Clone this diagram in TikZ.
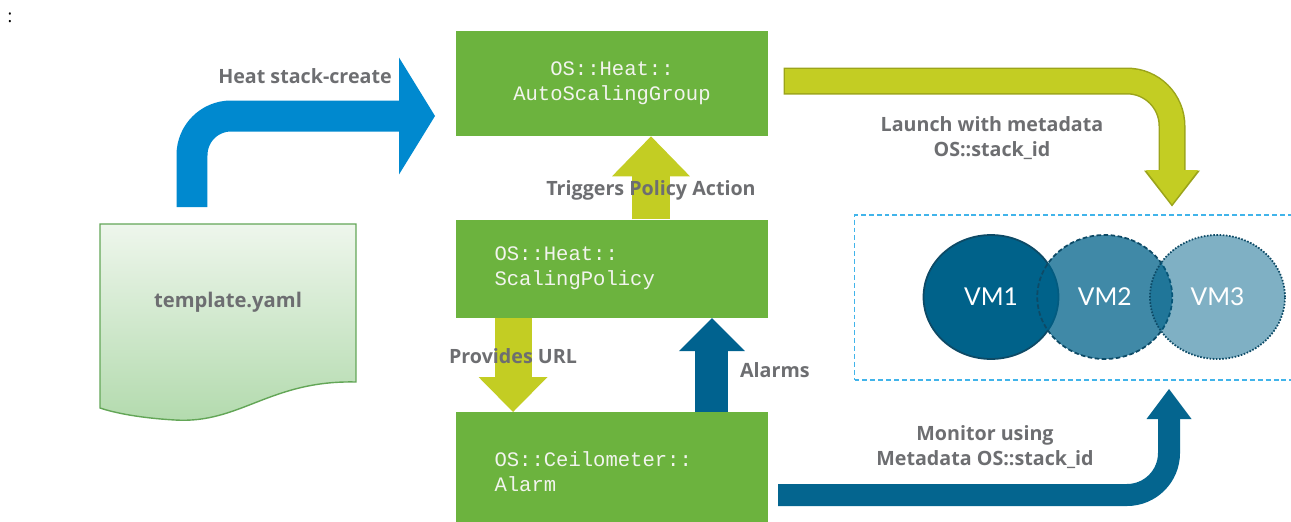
\documentclass[tikz,border=0pt]{standalone}
\usepackage{fontspec}
\setmainfont{Open Sans}
\setmonofont{Liberation Mono}
\newfontfamily\vmfont{Lato}
\usetikzlibrary{arrows.meta, positioning, shapes.geometric, calc}
\definecolor{heatGreen}{HTML}{6CB33E}
\definecolor{monoWhite}{HTML}{F2F4EE}
\definecolor{lblGray}{HTML}{6D6E71}
\definecolor{heatBlue}{HTML}{0089CF}
\definecolor{limeArrow}{HTML}{C3CD23}
\definecolor{limeEdge}{HTML}{9BA41A}
\definecolor{alarmBlue}{HTML}{00628F}
\definecolor{monBlue}{HTML}{04658F}
\definecolor{vmBlue}{HTML}{00628A}
\definecolor{vmEdge}{HTML}{0D4A66}
\definecolor{dashBlue}{HTML}{41B4EA}
\definecolor{docEdge}{HTML}{63A657}
\definecolor{docTop}{HTML}{EEF6EC}
\definecolor{docBot}{HTML}{B2DAAD}

\begin{document}
\begin{tikzpicture}[x=0.02cm, y=-0.02cm,
    resbox/.style={rectangle, fill=heatGreen, minimum width=6.24cm, inner sep=0pt,
                   text=monoWhite, font=\fontsize{11.7}{14.2}\selectfont\ttfamily},
    lbl/.style={text=lblGray, font=\fontsize{11.2}{14.2}\selectfont\bfseries,
                align=center, inner sep=1pt},
    vm/.style={ellipse, minimum width=2.7cm, minimum height=2.48cm, inner sep=0pt,
               fill=vmBlue, draw=vmEdge, line width=1pt, text=white,
               font=\fontsize{14}{16}\selectfont\vmfont},
    vmbox/.style={rectangle, draw=dashBlue, line width=0.9pt,
                  dash pattern=on 2.8pt off 1.7pt, minimum width=8.9cm,
                  minimum height=3.3cm, inner sep=0pt},
    blockarrow/.style n args={3}{line width=#1,
                  -{Triangle[length=#2, width=#3, line width=0pt]}},
  ]
    \useasboundingbox (0,0) rectangle (1291,521);

    % template document
    \draw[draw=docEdge, line width=0.8pt, top color=docTop, bottom color=docBot]
      (100,224) -- (356,224) -- (356,382)
      .. controls (270,380) and (240,424) .. (175,420)
      .. controls (140,418) and (115,413) .. (100,408) -- cycle;

    % resources
    \node[resbox, minimum height=2.1cm, align=center] (asg) at (612,83.5)
      {OS::Heat::\\AutoScalingGroup};
    \node[resbox, minimum height=1.96cm, below=1.66cm of asg, align=left,
          text width=4.7cm] (sp) {OS::Heat::\\ScalingPolicy};
    \node[resbox, minimum height=2.38cm, below=1.88cm of sp, align=left,
          text width=4.7cm] (alarm) {OS::Ceilometer::\\Alarm};

    % instances
    \node[vmbox] (vms) at (1077,297.5) {};
    \node[vm] (vm1) at (991,297) {VM1};
    \node[vm, dash pattern=on 2.6pt off 1.4pt, fill opacity=0.75, text opacity=1,
          right=-0.46cm of vm1] (vm2) {VM2};
    \node[vm, dash pattern=on 0.9pt off 0.9pt, fill opacity=0.5, text opacity=1,
          right=-0.48cm of vm2] (vm3) {VM3};

    \coordinate (heatS) at (192,207);
    \coordinate (heatE) at (435,116);
    \coordinate (launchS) at (785,81);
    \coordinate (launchE) at (1172,204);
    \coordinate (monS) at (778,495);
    \coordinate (monE) at (1169,389);

    % arrows
    \draw[heatBlue, rounded corners=0.78cm, blockarrow={0.62cm}{0.72cm}{2.34cm}]
      (heatS) |- (heatE);
    \draw[limeArrow, rounded corners=0.9cm, blockarrow={0.48cm}{0.68cm}{1.04cm},
          preaction={draw=limeEdge, shorten <=-0.03cm, shorten >=-0.05cm,
                     blockarrow={0.54cm}{0.72cm}{1.12cm}}]
      (launchS) -| (launchE);
    \draw[limeArrow, blockarrow={0.76cm}{0.8cm}{1.56cm}]
      ([xshift=0.78cm]sp.north) -- ([xshift=0.78cm]asg.south);
    \draw[limeArrow, blockarrow={0.74cm}{0.7cm}{1.38cm}]
      ([xshift=-1.98cm]sp.south) -- ([xshift=-1.98cm]alarm.north);
    \draw[alarmBlue, blockarrow={0.66cm}{0.66cm}{1.32cm}]
      ([xshift=2cm]alarm.north) -- ([xshift=2cm]sp.south);
    \draw[monBlue, rounded corners=0.84cm, blockarrow={0.44cm}{0.6cm}{0.9cm}]
      (monS) -| (monE);

    % labels
    \node (colon) at (10,18) {:};
    \node[lbl, font=\fontsize{11.5}{14}\selectfont\bfseries] (tpl) at (228,302) {template.yaml};
    \node[lbl] (heatlbl) at (305,76) {Heat stack-create};
    \node[lbl] (triglbl) at (651,190) {Triggers Policy Action};
    \node[lbl] (urllbl) at (513,356) {Provides URL};
    \node[lbl, anchor=west] (alarmlbl) at (738,370) {Alarms};
    \node[lbl] (launchlbl) at (992,138) {Launch with metadata\\OS::stack\_id};
    \node[lbl] (monlbl) at (985,447) {Monitor using\\Metadata OS::stack\_id};
\end{tikzpicture}
\end{document}
